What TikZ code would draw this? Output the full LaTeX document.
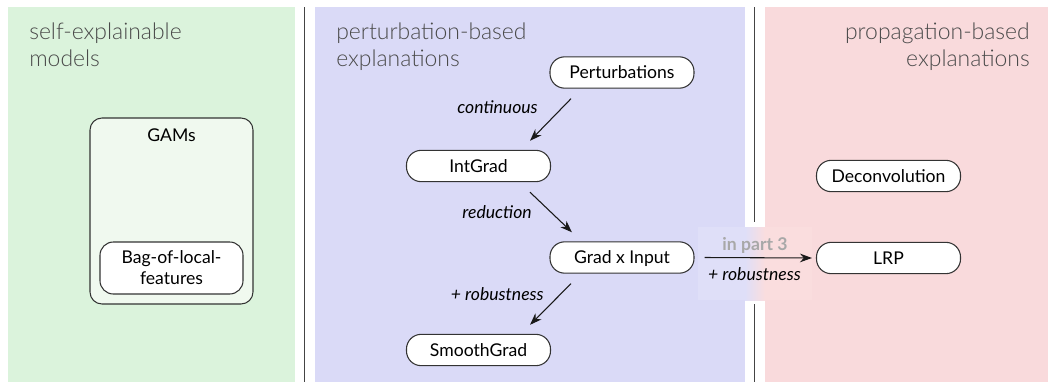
\documentclass[tikz,border=0pt]{standalone}
\usepackage{fontspec}
\setmainfont{Lato}
\newfontfamily\headfont{Lato Light}
\usetikzlibrary{arrows.meta,calc}

\definecolor{greenbg}{HTML}{DBF3DC}
\definecolor{bluebg}{HTML}{DADAF7}
\definecolor{pinkbg}{HTML}{F9DADC}
\definecolor{gamsbg}{HTML}{F0F9EF}
\definecolor{tagblue}{HTML}{DFDFF8}
\definecolor{tagpink}{HTML}{FADDDE}
\definecolor{headgray}{HTML}{4A4A4A}
\definecolor{edgegray}{HTML}{333333}
\definecolor{linegray}{HTML}{444444}
\definecolor{notegray}{HTML}{A8A8A8}

\begin{document}
\begin{tikzpicture}[x=0.75pt,y=-0.75pt,
  method/.style={draw=edgegray, line width=0.8pt, fill=white,
    rounded corners=11pt, minimum width=108pt, minimum height=23.5pt,
    inner sep=0pt, text height=9.5pt, text depth=0pt,
    font=\fontsize{13.2}{15.8}\selectfont},
  heading/.style={font=\headfont\fontsize{17.2}{20}\selectfont,
    text=headgray, inner sep=0pt},
  edgelabel/.style={font=\itshape\fontsize{13.2}{15.8}\selectfont, inner sep=0pt},
  notelabel/.style={font=\bfseries\fontsize{13.2}{15.8}\selectfont,
    text=notegray, inner sep=0pt},
  flow/.style={-{Stealth[length=9pt,width=6.5pt]}, line width=0.8pt, black!90},
  divider/.style={linegray, line width=1.1pt}
]
\useasboundingbox (0,0) rectangle (1048,382);

% column backgrounds
\fill[greenbg] (8,7) rectangle (295,382);
\fill[bluebg] (315,7) rectangle (745,382);
\fill[pinkbg] (765,7) rectangle (1048,382);

% column separators
\draw[divider] (304.5,7) -- (304.5,382);
\draw[divider] (754.5,7) -- (754.5,222);
\draw[divider] (754.5,304) -- (754.5,382);

% backdrop of the cross-column arrow label
\fill[tagblue] (698,227) rectangle (745.5,300);
\shade[left color=tagblue, right color=tagpink] (745,227) rectangle (765,300);
\fill[tagpink] (764.5,227) rectangle (812,300);

% column headings
\node[heading, anchor=north west, align=left] (hself) at (29,23)
  {self-explainable\\models};
\node[heading, anchor=north west, align=left] (hpert) at (336,23)
  {perturbation-based\\explanations};
\node[heading, anchor=north east, align=right] (hprop) at (1030,23)
  {propagation-based\\explanations};

% self-explainable models
\node[draw=edgegray, line width=0.8pt, fill=gamsbg, rounded corners=9pt,
  minimum width=122.25pt, minimum height=139.5pt, inner sep=0pt]
  (gams) at (171.5,211) {};
\node[font=\fontsize{13.2}{15.8}\selectfont, inner sep=0pt] (gamstitle)
  at (171.5,135.5) {GAMs};
\node[draw=edgegray, line width=0.8pt, fill=white, rounded corners=10pt,
  minimum width=107.25pt, minimum height=39pt, inner sep=0pt, align=center,
  font=\fontsize{13.2}{15.75}\selectfont] (bag) at (171.5,268)
  {Bag-of-local-\\features};

% perturbation-based methods
\node[method] (pert) at (622,72.5) {Perturbations};
\node[method] (intgrad) at (478.5,166) {IntGrad};
\node[method] (gxi) at (622,257.5) {Grad x Input};
\node[method] (smooth) at (478.5,350) {SmoothGrad};

% propagation-based methods
\node[method] (deconv) at (888.5,176) {Deconvolution};
\node[method] (lrp) at (888.5,258) {LRP};

% relations
\draw[flow] ($(pert.south)+(-51,10)$) -- ($(intgrad.north)+(51.5,-9)$);
\draw[flow] ($(intgrad.south)+(51.5,10)$) -- ($(gxi.north)+(-50,-9)$);
\draw[flow] ($(gxi.south)+(-51,10)$) -- ($(smooth.north)+(51.5,-9)$);
\draw[flow] ($(gxi.east)+(10,0)$) -- ($(lrp.west)+(-4,0)$);

\node[edgelabel, anchor=east] (lcont) at (538,107.5) {continuous};
\node[edgelabel, anchor=east] (lred) at (532,212.5) {reduction};
\node[edgelabel, anchor=east] (lrob) at (544,294) {+ robustness};
\node[notelabel] (lpart) at (755,245) {in part 3};
\node[edgelabel] (lrob2) at (754.5,274) {+ robustness};
\end{tikzpicture}
\end{document}
